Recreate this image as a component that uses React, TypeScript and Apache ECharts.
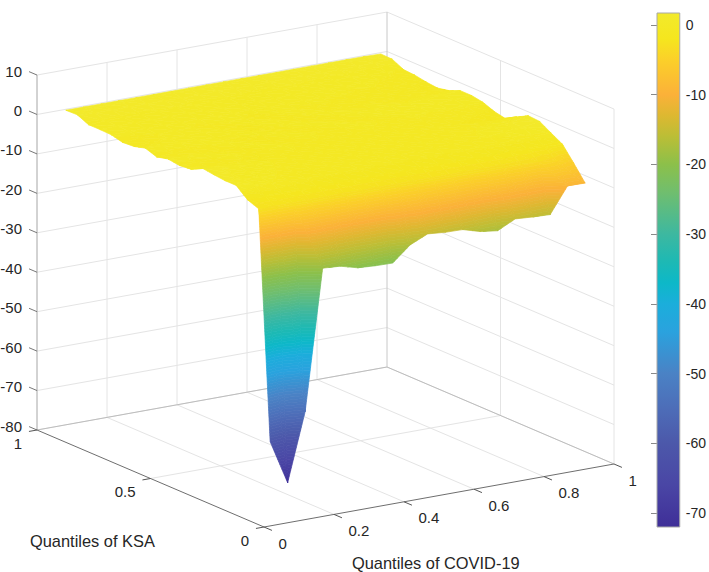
import React, { useEffect, useRef } from "react";
import * as echarts from "echarts";

// Quantile levels of the surface (x: COVID-19, rows: KSA quantile running 0.95 -> 0.05)
const covidLevels = [0.05,0.1,0.15,0.2,0.25,0.3,0.35,0.4,0.45,0.5,0.55,0.6,0.65,0.7,0.75,0.8,0.85,0.9,0.95];
const ksaLevels = [0.95,0.9,0.85,0.8,0.75,0.7,0.65,0.6,0.55,0.5,0.45,0.4,0.35,0.3,0.25,0.2,0.15,0.1,0.05];

const rowKsa95 = [1.5,1.5,1.5,1.5,1.5,1.5,1.5,1.5,1.5,1.5,1.5,1.5,1.5,1.5,1.5,1.5,1.5,1.5,1.4];
const rowKsa90 = [1.6,1.3,1.2,1.2,1.1,1.2,1.0,1.1,1.2,1.1,1.0,1.1,1.2,1.1,1.0,1.1,1.1,1.2,1.3];
const rowKsa85 = [0.3,0.5,0.6,0.4,0.5,0.7,0.5,0.4,0.6,0.5,0.4,0.5,0.6,0.4,0.3,0.4,0.2,0.1,-0.1];
const rowKsa80 = [0.3,0.4,0.5,0.3,0.4,0.5,0.3,0.2,0.4,0.3,0.2,0.4,0.3,0.2,0.1,0.2,0.0,-0.1,-0.3];
const rowKsa75 = [0.2,0.3,0.2,0.3,0.1,0.3,0.2,0.1,0.2,0.0,0.1,0.2,0.0,0.1,-0.1,0.0,-0.2,-0.5,-0.8];
const rowKsa70 = [-0.5,-0.2,0.0,0.1,0.0,-0.1,0.1,0.0,-0.1,0.1,0.0,-0.1,0.0,-0.2,-0.1,-0.3,-0.4,-0.7,-1.1];
const rowKsa65 = [-0.3,-0.1,0.1,0.0,0.2,0.0,-0.1,0.1,0.0,-0.1,0.1,0.0,-0.1,0.0,-0.1,-0.2,-0.3,-0.4,-0.5];
const rowKsa60 = [0.5,0.3,0.2,0.1,0.0,0.2,0.0,-0.1,0.1,0.0,-0.1,0.0,0.1,0.0,0.1,0.0,0.2,0.4,0.7];
const rowKsa55 = [-0.5,-0.3,-0.1,0.0,0.1,-0.1,0.0,0.1,-0.1,0.0,0.1,-0.1,0.0,0.1,0.0,0.2,0.3,0.5,0.7];
const rowKsa50 = [0.2,0.1,0.0,-0.1,0.0,0.1,-0.1,0.0,0.1,-0.1,0.0,0.1,0.0,-0.1,0.1,0.0,0.1,0.2,0.2];
const rowKsa45 = [-0.2,-0.1,0.0,0.1,-0.1,0.0,0.1,-0.1,0.0,-0.2,-0.1,0.0,-0.1,-0.2,-0.1,-0.3,-0.4,-0.6,-0.9];
const rowKsa40 = [0.1,0.0,-0.1,0.0,-0.2,-0.1,0.0,-0.2,-0.1,-0.2,-0.3,-0.2,-0.3,-0.2,-0.4,-0.6,-0.8,-1.1,-1.5];
const rowKsa35 = [1.6,0.9,0.5,0.2,0.0,-0.1,-0.2,-0.1,-0.2,-0.3,-0.2,-0.3,-0.2,-0.3,-0.2,-0.3,-0.2,0.0,0.2];
const rowKsa30 = [1.2,0.7,0.3,0.1,-0.1,-0.2,-0.1,-0.3,-0.2,-0.3,-0.4,-0.3,-0.4,-0.3,-0.2,0.0,0.4,0.9,1.7];
const rowKsa25 = [0.9,0.5,0.2,0.0,-0.2,-0.3,-0.2,-0.3,-0.4,-0.3,-0.4,-0.5,-0.4,-0.3,-0.2,0.1,0.5,0.9,1.5];
const rowKsa20 = [0.9,0.3,0.0,-0.2,-0.4,-0.5,-0.6,-0.5,-0.7,-0.6,-0.7,-0.6,-0.7,-0.6,-0.5,-0.4,-0.3,-0.2,-0.2];
const rowKsa15 = [-1.5,-1.3,-1.2,-1.3,-1.4,-1.3,-1.5,-1.4,-1.5,-1.4,-1.5,-1.4,-1.3,-1.4,-1.3,-1.4,-1.5,-1.6,-1.8];
const rowKsa10 = [-2.6,-3.0,-3.0,-3.1,-3.0,-3.2,-3.0,-3.1,-3.0,-3.1,-3.0,-3.0,-3.1,-3.0,-3.1,-3.2,-3.4,-4.0,-5.4];
const rowKsa05 = [-60.4,-71.6,-54.4,-18.8,-19.1,-20.3,-20.6,-20.7,-16.9,-14.9,-15.3,-15.4,-16.7,-17.3,-15.1,-15.4,-15.6,-9.1,-9.2];
const surfaceRows = [rowKsa95,rowKsa90,rowKsa85,rowKsa80,rowKsa75,rowKsa70,rowKsa65,rowKsa60,rowKsa55,rowKsa50,rowKsa45,rowKsa40,rowKsa35,rowKsa30,rowKsa25,rowKsa20,rowKsa15,rowKsa10,rowKsa05];

const zTicks = [-80,-70,-60,-50,-40,-30,-20,-10,0,10];
const covidTicks = [0,0.2,0.4,0.6,0.8,1];
const ksaTicks = [0,0.5,1];
const colorbarTicks = [0,-10,-20,-30,-40,-50,-60,-70];
const colorbarMin = -72;
const colorbarMax = 1.7;

const colorStops: [number, string][] = [
  [1.7,"#F2EA2B"],[-2,"#F5E61E"],[-5,"#FBD029"],[-10,"#FBB139"],[-13,"#DDB831"],[-16,"#BBBE36"],
  [-20,"#8CC04A"],[-24,"#70BE6E"],[-30,"#3DB8A0"],[-34,"#1DB9B4"],[-37,"#0DB8C8"],[-40,"#1BAEDB"],
  [-44,"#2AA2DE"],[-50,"#4A82C5"],[-55,"#4D6DB8"],[-60,"#4C58AA"],[-66,"#4A46A5"],[-72,"#3F2F98"],
];

const hexRgb = (h: string) => [parseInt(h.slice(1,3),16),parseInt(h.slice(3,5),16),parseInt(h.slice(5,7),16)];
function colorAt(z: number) {
  if (z >= colorStops[0][0]) return colorStops[0][1];
  for (let s = 1; s < colorStops.length; s++) {
    if (z >= colorStops[s][0]) {
      const t = (colorStops[s-1][0]-z)/(colorStops[s-1][0]-colorStops[s][0]);
      const a = hexRgb(colorStops[s-1][1]), b = hexRgb(colorStops[s][1]);
      return `rgb(${Math.round(a[0]+(b[0]-a[0])*t)},${Math.round(a[1]+(b[1]-a[1])*t)},${Math.round(a[2]+(b[2]-a[2])*t)})`;
    }
  }
  return colorStops[colorStops.length-1][1];
}

// Orthographic view of the MATLAB box: c = COVID quantile, k = KSA quantile, z = value
function project(c: number, k: number, z: number): [number, number] {
  const d = 1 - k;
  return [37 + 350*c + 227*d, 430 - 63*c + 97*d - (z+80)*3.944];
}

const WALL = "#E4E4E4", BACK = "#BDBDBD", FRONT = "#6E6E6E";
type Seg = [number,number,number,number,number,number,string];
const segs: Seg[] = [];
for (const z of zTicks) {
  segs.push([0,1,z,1,1,z,WALL]);
  segs.push([1,1,z,1,0,z,WALL]);
}
for (const c of covidTicks) {
  if (c > 0 && c < 1) segs.push([c,1,-80,c,1,10,WALL]);
  if (c > 0 && c < 1) segs.push([c,0,-80,c,1,-80,WALL]);
}
for (const k of ksaTicks) {
  if (k < 1) segs.push([1,k,-80,1,k,10,WALL]);
  if (k > 0 && k < 1) segs.push([0,k,-80,1,k,-80,WALL]);
}
segs.push([0,1,-80,1,1,-80,BACK]);
segs.push([1,1,-80,1,0,-80,BACK]);
segs.push([1,1,-80,1,1,10,"#C8C8C8"]);
segs.push([0,1,-80,0,1,10,"#A6A6A6"]);
segs.push([0,1,-80,0,0,-80,FRONT]);
segs.push([0,0,-80,1,0,-80,FRONT]);
for (const z of zTicks) segs.push([0,1,z,0,1.035,z,"#777777"]);
for (const k of ksaTicks) segs.push([0,k,-80,-0.023,k,-80,"#555555"]);
for (const c of covidTicks) segs.push([c,0,-80,c,-0.035,-80,"#555555"]);

type Lab = [number,number,string,string];
const labels: Lab[] = [];
for (const z of zTicks) {
  const p = project(0,1,z);
  labels.push([p[0]-15,p[1]-4,String(z),"right"]);
}
for (const k of ksaTicks) {
  const p = project(0,k,-80);
  labels.push([p[0]-15,p[1]+13,String(k),"right"]);
}
for (const c of covidTicks) {
  const p = project(c,0,-80);
  labels.push([p[0]+14.5,p[1]+16,String(c),"left"]);
}

const cells: [number,number][] = [];
for (let r = 0; r < ksaLevels.length-1; r++)
  for (let i = covidLevels.length-2; i >= 0; i--) cells.push([i,r]);

const FONT = '"Liberation Sans", Arial, sans-serif';
const TEXT = "#262626";

type V3 = [number,number,number];
// keep the part of a polygon on one side of a z level
function clipZ(poly: V3[], level: number, keepAbove: boolean): V3[] {
  const out: V3[] = [];
  for (let n = 0; n < poly.length; n++) {
    const a = poly[n], b = poly[(n+1)%poly.length];
    const ina = keepAbove ? a[2] >= level : a[2] <= level;
    const inb = keepAbove ? b[2] >= level : b[2] <= level;
    if (ina) out.push(a);
    if (ina !== inb) {
      const t = (level-a[2])/(b[2]-a[2]);
      out.push([a[0]+(b[0]-a[0])*t, a[1]+(b[1]-a[1])*t, level]);
    }
  }
  return out;
}

function bandTriangle(tri: V3[], api: any, children: any[]) {
  const step = 0.7;
  const zs = tri.map((v) => v[2]);
  const lo = Math.floor(Math.min(...zs)/step), hi = Math.ceil(Math.max(...zs)/step);
  for (let b = hi-1; b >= lo; b--) {
    const top = (b+1)*step, bot = b*step;
    let poly = clipZ(tri, top, false);
    if (poly.length) poly = clipZ(poly, bot, true);
    if (poly.length < 3) continue;
    const col = colorAt((top+bot)/2);
    children.push({
      type: "polygon",
      shape: { points: poly.map((v) => api.coord(project(v[0],v[1],v[2]))) },
      style: { fill: col, stroke: col, lineWidth: 0.7 },
    });
  }
}

function renderCell(_: any, api: any) {
  const i = api.value(0), r = api.value(1);
  const c0 = covidLevels[i], c1 = covidLevels[i+1], k0 = ksaLevels[r], k1 = ksaLevels[r+1];
  const tl: V3 = [c0,k0,surfaceRows[r][i]], tr: V3 = [c1,k0,surfaceRows[r][i+1]];
  const bl: V3 = [c0,k1,surfaceRows[r+1][i]], br: V3 = [c1,k1,surfaceRows[r+1][i+1]];
  const children: any[] = [];
  bandTriangle([tl,tr,br], api, children);
  bandTriangle([tl,br,bl], api, children);
  return { type: "group", children };
}

export default function App() {
  const ref = useRef<HTMLDivElement>(null);
  useEffect(() => {
    document.body.style.margin = "0";
    document.body.style.background = "#fff";
    const chart = echarts.init(ref.current!, undefined, { renderer: "svg" });
    chart.setOption({
      animation: false,
      backgroundColor: "#ffffff",
      grid: [
        { left: 0, top: 0, width: 709, height: 572 },
        { left: 657, top: 13, width: 24, height: 514 },
      ],
      xAxis: [
        { type: "value", min: 0, max: 709, show: false, gridIndex: 0 },
        { type: "value", min: 0, max: 1, show: false, gridIndex: 1 },
      ],
      yAxis: [
        { type: "value", min: 0, max: 572, inverse: true, show: false, gridIndex: 0 },
        {
          type: "value", min: colorbarMin, max: colorbarMax, gridIndex: 1, position: "right",
          axisLine: { show: false }, splitLine: { show: false },
          axisTick: { show: true, inside: true, length: 6, customValues: colorbarTicks, lineStyle: { color: "rgba(40,40,40,0.55)", width: 1 } },
          axisLabel: { show: true, margin: 6, customValues: colorbarTicks, color: TEXT, fontFamily: FONT, fontSize: 14, formatter: (v: number) => String(v) },
        },
      ],
      series: [
        {
          type: "custom", xAxisIndex: 0, yAxisIndex: 0, clip: false, silent: true, z: 1,
          coordinateSystem: "cartesian2d", encode: { x: 0, y: 1 },
          data: segs.map((s, idx) => [idx, 0]),
          renderItem: (_: any, api: any) => {
            const s = segs[api.value(0)];
            const a = api.coord(project(s[0],s[1],s[2])), b = api.coord(project(s[3],s[4],s[5]));
            return { type: "line", shape: { x1: a[0], y1: a[1], x2: b[0], y2: b[1] }, style: { stroke: s[6], lineWidth: 1 } };
          },
        },
        {
          type: "custom", xAxisIndex: 0, yAxisIndex: 0, clip: false, silent: true, z: 2, progressive: 0,
          coordinateSystem: "cartesian2d", encode: { x: 0, y: 1 },
          data: cells,
          renderItem: renderCell,
        },
        {
          type: "custom", xAxisIndex: 0, yAxisIndex: 0, clip: false, silent: true, z: 3,
          coordinateSystem: "cartesian2d", encode: { x: 0, y: 1 },
          data: labels.map((l) => [l[0], l[1]]),
          renderItem: (p: any, api: any) => {
            const l = labels[p.dataIndex];
            const a = api.coord([l[0], l[1]]);
            return { type: "text", style: { x: a[0], y: a[1], text: l[2], align: l[3], verticalAlign: "middle", fill: TEXT, font: `15px ${FONT}` } };
          },
        },
        {
          type: "custom", xAxisIndex: 1, yAxisIndex: 1, clip: false, silent: true, z: 1,
          coordinateSystem: "cartesian2d", encode: { x: 0, y: 1 },
          data: [[0, colorbarMax]],
          renderItem: (_: any, api: any) => {
            const a = api.coord([0, colorbarMax]), b = api.coord([1, colorbarMin]);
            const span = colorbarMax - colorbarMin;
            return {
              type: "rect",
              shape: { x: a[0], y: a[1], width: b[0]-a[0], height: b[1]-a[1] },
              style: {
                fill: new echarts.graphic.LinearGradient(0,0,0,1, colorStops.map(([z,color]) => ({ offset: (colorbarMax-z)/span, color }))),
                stroke: "#A8A8A8", lineWidth: 1,
              },
            };
          },
        },
      ],
      graphic: [
        { type: "text", x: 30, y: 541, style: { text: "Quantiles of KSA", fill: TEXT, font: `16.4px ${FONT}`, verticalAlign: "middle" } },
        { type: "text", x: 352, y: 563, style: { text: "Quantiles of COVID-19", fill: TEXT, font: `16.4px ${FONT}`, verticalAlign: "middle" } },
      ],
    });
    return () => chart.dispose();
  }, []);
  return <div ref={ref} style={{ width: 709, height: 572 }} />;
}
